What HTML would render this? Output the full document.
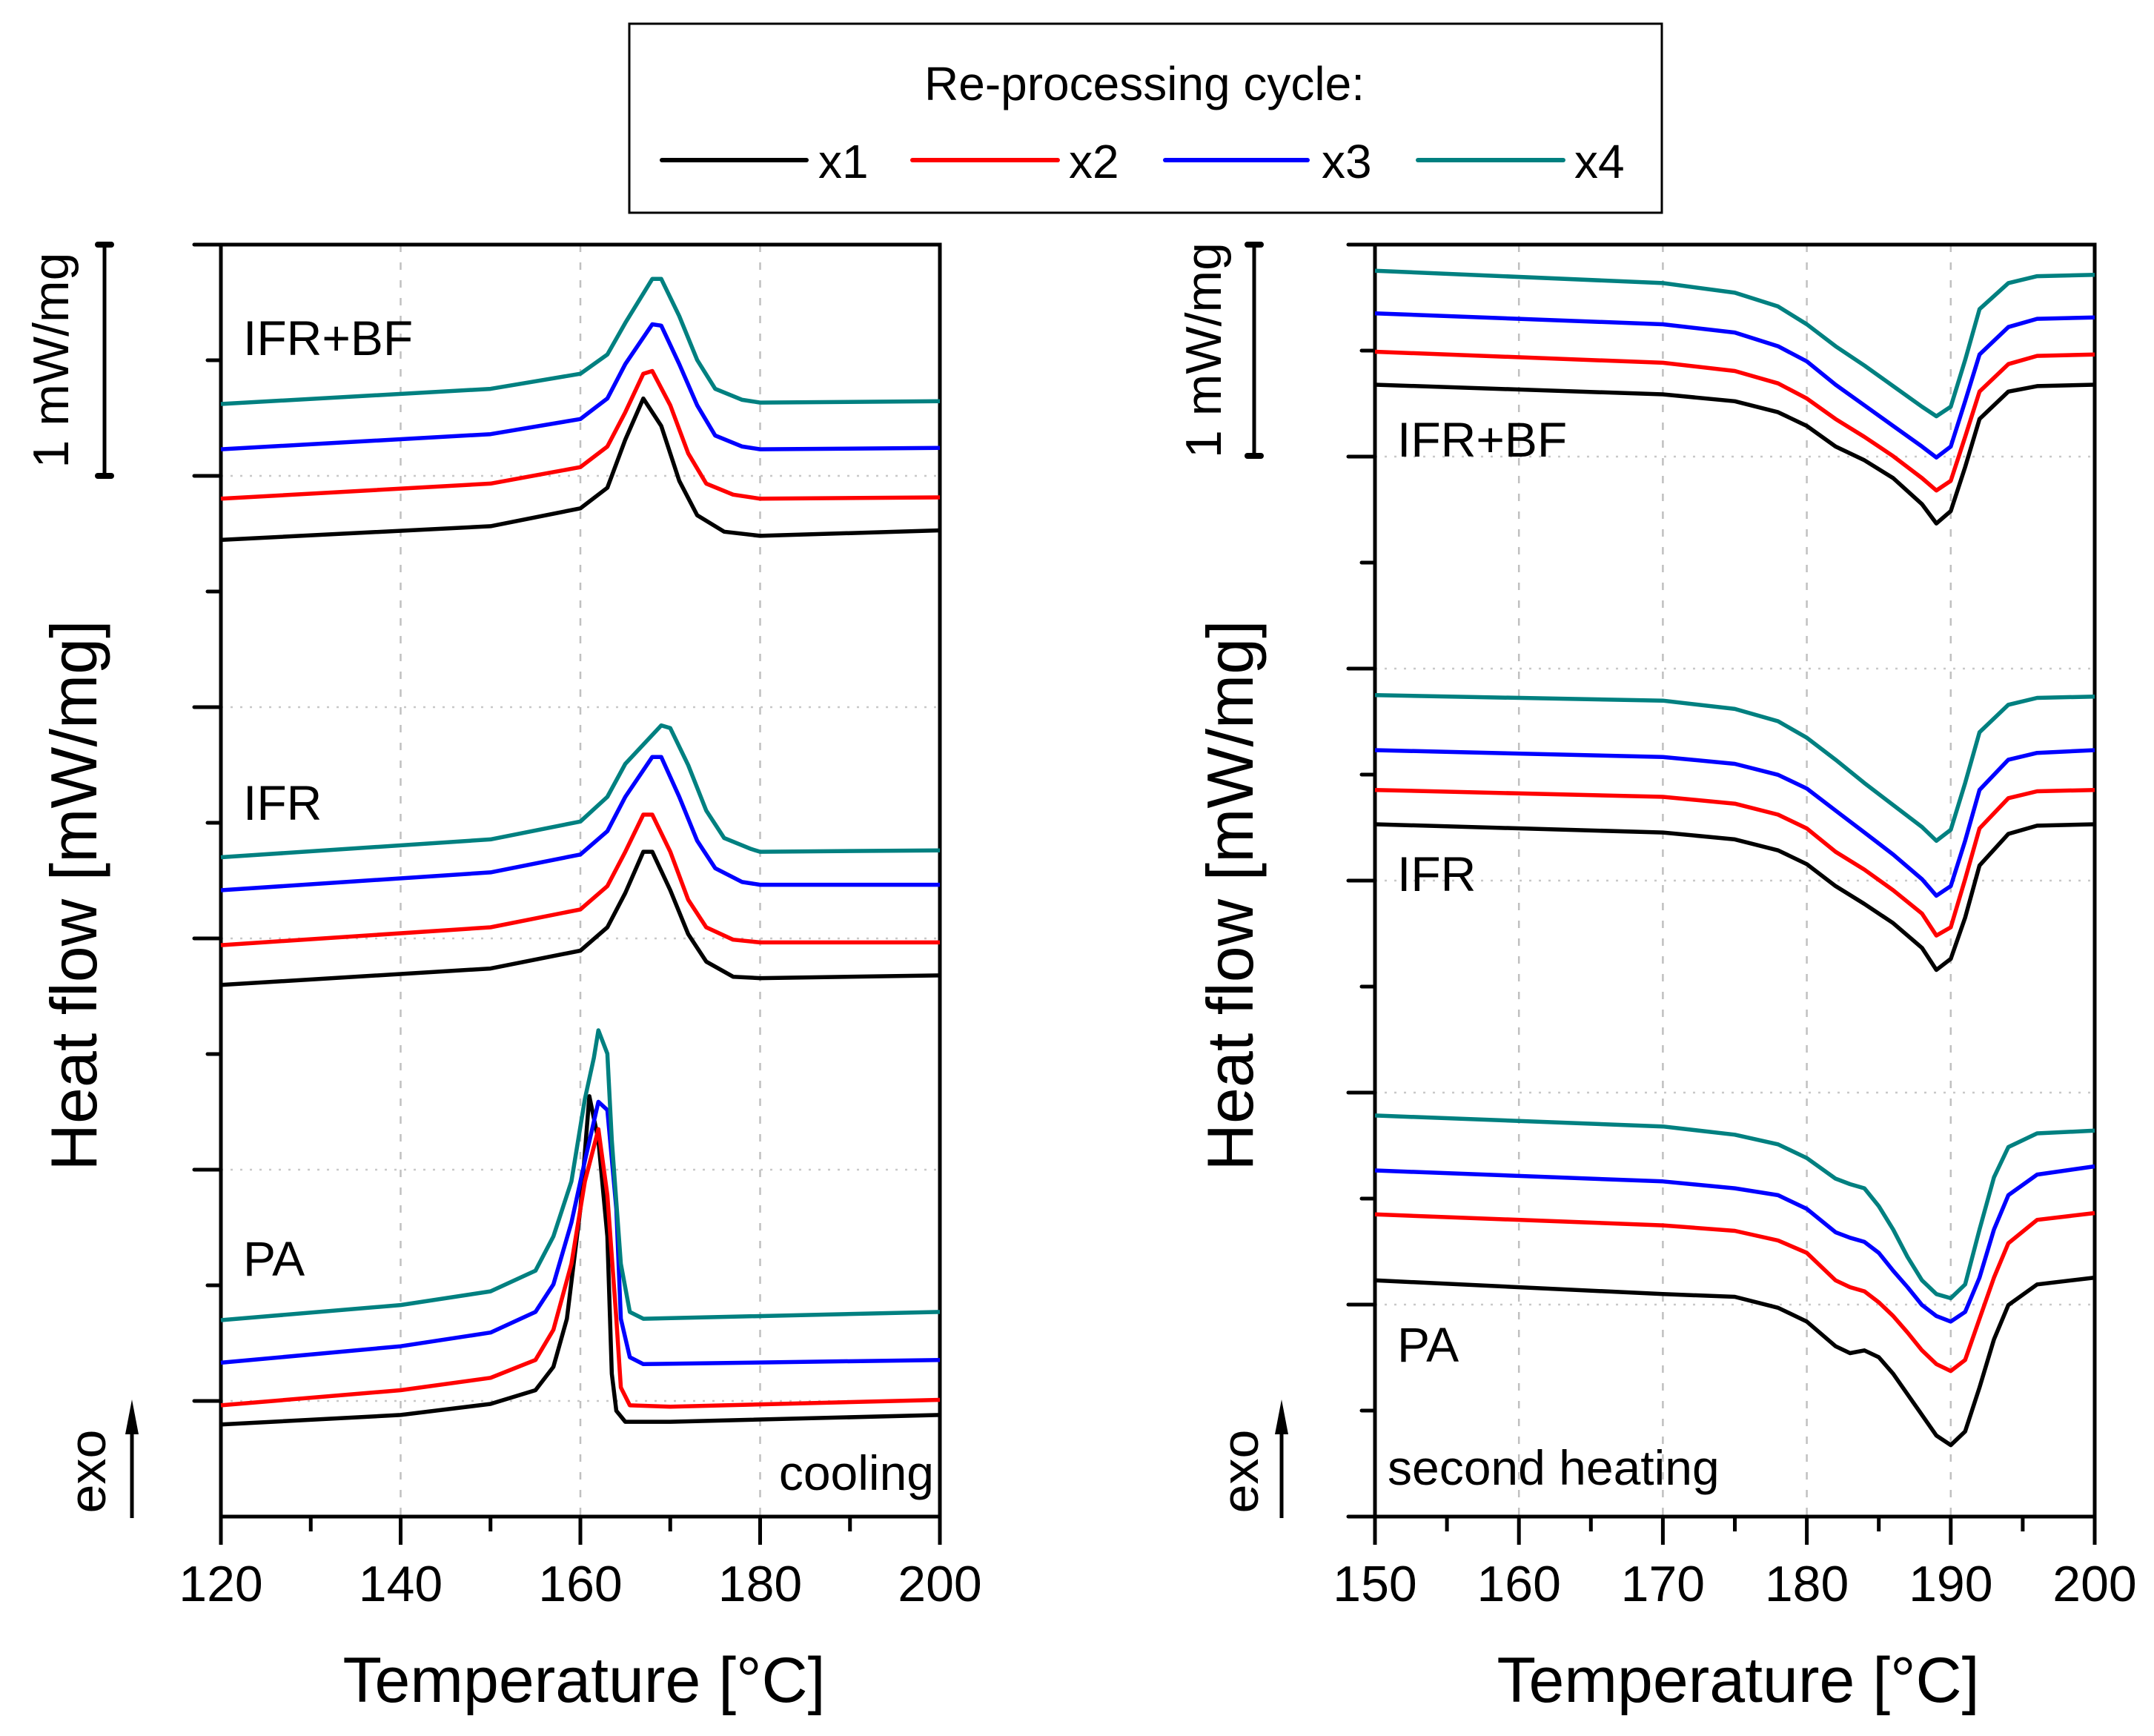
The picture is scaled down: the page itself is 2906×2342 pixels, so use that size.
<!DOCTYPE html>
<html><head><meta charset="utf-8"><style>
html,body{margin:0;padding:0;background:#fff}
svg{display:block;font-family:"Liberation Sans Narrow","Liberation Sans",sans-serif}
.w{font-family:"Liberation Sans",sans-serif}
</style></head><body>
<svg id="fig" width="2906" height="2342" viewBox="0 0 2906 2342" xmlns="http://www.w3.org/2000/svg">
<g>
<rect x="849" y="32" width="1393" height="255" fill="#fff" stroke="#000" stroke-width="3"/>
<text x="1544" y="135" font-size="64" text-anchor="middle">Re-processing cycle:</text>
<g><line x1="893" y1="216" x2="1088" y2="216" stroke="#000" stroke-width="6" stroke-linecap="round"/><text x="1104" y="240" font-size="64">x1</text></g>
<g><line x1="1231" y1="216" x2="1427" y2="216" stroke="#f00" stroke-width="6" stroke-linecap="round"/><text x="1442" y="240" font-size="64">x2</text></g>
<g><line x1="1572" y1="216" x2="1764" y2="216" stroke="#00f" stroke-width="6" stroke-linecap="round"/><text x="1783" y="240" font-size="64">x3</text></g>
<g><line x1="1913" y1="216" x2="2109" y2="216" stroke="#008080" stroke-width="6" stroke-linecap="round"/><text x="2124" y="240" font-size="64">x4</text></g>
</g>
<g id="left"></g>
<g id="right"></g>
</svg>
<script>
// Left panel (cooling) temperatures and heat flow (offset, a.u.; 168.5 units = 1 mW/mg)
const L_BF_x1_T=[120,150,160,163,165,167,169,171,173,176,180,200];
const L_BF_x1_H=[711,721,734,749,784,814,794,754,729,717,714,718];
const L_BF_x2_T=[120,150,160,163,165,167,168,170,172,174,177,180,200];
const L_BF_x2_H=[741,752,764,779,804,832,834,809,774,752,744,741,742];
const L_BF_x3_T=[120,150,160,163,165,168,169,171,173,175,178,180,200];
const L_BF_x3_H=[777,788,799,814,839,868,867,839,809,787,779,777,778];
const L_BF_x4_T=[120,150,160,163,165,168,169,171,173,175,178,180,200];
const L_BF_x4_H=[810,821,832,846,869,901,901,874,842,821,813,811,812];
const L_IFR_x1_T=[120,150,160,163,165,167,168,170,172,174,177,180,200];
const L_IFR_x1_H=[387,399,412,429,454,484,484,456,424,404,393,392,394];
const L_IFR_x2_T=[120,150,160,163,165,167,168,170,172,174,177,180,200];
const L_IFR_x2_H=[416,429,442,459,484,511,511,484,449,429,420,418,418];
const L_IFR_x3_T=[120,150,160,163,165,168,169,171,173,175,178,180,200];
const L_IFR_x3_H=[456,469,482,499,524,553,553,524,492,472,462,460,460];
const L_IFR_x4_T=[120,150,160,163,165,169,170,172,174,176,179,180,200];
const L_IFR_x4_H=[480,493,506,524,548,576,574,547,514,494,486,484,485];
const L_PA_x1_T=[120,140,150,155,157,158.5,160,161,162,163,163.5,164,165,170,200];
const L_PA_x1_H=[67,74,82,92,109,144,224,306,274,204,104,77,69,69,74];
const L_PA_x2_T=[120,140,150,155,157,159,160.5,162,163,164,164.5,165.5,170,200];
const L_PA_x2_H=[81,92,101,114,136,184,244,282,234,144,94,81,80,85];
const L_PA_x3_T=[120,140,150,155,157,159,160.5,162,163,164,164.5,165.5,167,200];
const L_PA_x3_H=[112,124,134,149,169,214,259,302,296,224,144,116,111,114];
const L_PA_x4_T=[120,140,150,155,157,159,160.5,161.5,162,163,163.5,164.5,165.5,167,200];
const L_PA_x4_H=[143,154,164,179,204,244,304,334,354,337,274,184,149,144,149];
const L_xTicks=[120,140,160,180,200];
// Right panel (second heating), 154.3 units = 1 mW/mg
const R_BF_T=[150,170,175,178,180,182,184,186,188,189,190,191,192,194,196,200];
const R_BF_x1_H=[824,817,812,804,794,779,769,756,737,723,732,764,799,819,823,824];
const R_BF_x2_H=[848,840,834,825,814,799,786,772,756,747,754,786,819,839,845,846];
const R_BF_x3_H=[876,868,862,852,841,824,809,794,779,771,779,812,846,866,872,873];
const R_BF_x4_H=[907,898,891,881,868,852,838,823,808,801,808,842,879,898,903,904];
const R_IFR_x1_H=[504,498,493,485,475,459,446,432,414,398,406,436,474,497,503,504];
const R_IFR_x2_H=[529,524,519,511,501,484,471,456,439,423,429,464,501,523,528,529];
const R_IFR_x3_H=[558,553,548,540,530,514,498,482,464,452,459,492,529,551,556,558];
const R_IFR_x4_H=[598,594,588,579,567,551,534,518,502,492,500,534,571,591,596,597];
const R_PA_T=[150,170,175,178,180,182,183,184,185,186,187,188,189,190,191,192,193,194,196,200];
const R_PA_x1_H=[172,162,160,152,142,124,119,121,116,104,89,74,59,52,62,94,129,154,169,174];
const R_PA_x2_H=[220,212,208,201,192,172,167,164,156,146,134,121,111,106,114,144,174,199,216,221];
const R_PA_x3_H=[252,244,239,234,224,207,203,200,192,179,167,154,146,142,149,174,209,234,249,255];
const R_PA_x4_H=[292,284,278,271,261,246,242,239,226,209,189,172,162,159,169,209,247,269,279,281];
const R_xTicks=[150,160,170,180,190,200];

const NS="http://www.w3.org/2000/svg";
const COLORS=["#000000","#ff0000","#0000ff","#008080"];
function mk(parent,tag,attrs){const e=document.createElementNS(NS,tag);for(const k in attrs)e.setAttribute(k,attrs[k]);parent.appendChild(e);return e;}
const TOP=330,BOT=2046,HMAX=926;
function yS(v){return BOT-v*(BOT-TOP)/HMAX;}

function panel(g,x0,x1,tmin,tmax,xTicks,minorStep,yMajorStep,yMinorStep,yMajorStart){
  const xS=t=>x0+(t-tmin)/(tmax-tmin)*(x1-x0);
  for(const t of xTicks){ if(t===tmin||t===tmax) continue;
    const l=mk(g,'line',{x1:xS(t),x2:xS(t),y1:TOP,y2:BOT,stroke:'#c0c0c0','stroke-width':2.5,'stroke-dasharray':'10 14'});
    
    
  }
  for(let v=yMajorStart;v<HMAX-1;v+=yMajorStep){
    const l=mk(g,'line',{x1:x0,x2:x1,y1:yS(v),y2:yS(v),stroke:'#c8c8c8','stroke-width':2.5,'stroke-dasharray':'3 10'});
    
    
  }
  for(let t=tmin;t<=tmax+0.01;t+=minorStep){
    const major=xTicks.includes(t);
    const l=mk(g,'line',{x1:xS(t),x2:xS(t),y1:BOT,y2:BOT+(major?38:20),stroke:'#000','stroke-width':5});
    
    
  }
  for(const t of xTicks){
    const tx=mk(g,'text',{x:xS(t),y:2160,'font-size':68,'text-anchor':'middle'});
    tx.textContent=t;
    
    
  }
  for(let v=HMAX;v>=0;v-=yMinorStep){
    const major=Math.abs(((v-yMajorStart)/yMajorStep)-Math.round((v-yMajorStart)/yMajorStep))<0.01;
    const l=mk(g,'line',{x1:x0-(major?36:18),x2:x0,y1:yS(v),y2:yS(v),stroke:'#000','stroke-width':5,'stroke-linecap':'round'});
    
    
  }
  const fr=mk(g,'rect',{x:x0,y:TOP,width:x1-x0,height:BOT-TOP,fill:'none',stroke:'#000','stroke-width':5});
  
  
  return xS;
}
function series(g,xS,T,H,ci,name){
  const pts=T.map((t,i)=>xS(t).toFixed(1)+','+yS(H[i]).toFixed(1)).join(' ');
  const p=mk(g,'polyline',{points:pts,fill:'none',stroke:COLORS[ci],'stroke-width':5.5,'stroke-linejoin':'round'});
  
  
}
function txt(g,x,y,s,fs,extra,name){
  const t=mk(g,'text',Object.assign({x:x,y:y,'font-size':fs},extra||{}));t.textContent=s;
  
  
  return t;
}
function side(g,lblX,barX,barTop,barBot,hfX,exoX){
  const b=mk(g,'path',{d:`M${barX} ${barTop}V${barBot}`,stroke:'#000','stroke-width':5,fill:'none'});
  
  
  mk(g,'line',{x1:barX-9,x2:barX+9,y1:barTop,y2:barTop,stroke:'#000','stroke-width':8,'stroke-linecap':'round'});
  mk(g,'line',{x1:barX-9,x2:barX+9,y1:barBot,y2:barBot,stroke:'#000','stroke-width':8,'stroke-linecap':'round'});
  txt(g,0,0,'1 mW/mg',68,{transform:`translate(${lblX},${(barTop+barBot)/2}) rotate(-90)`,'text-anchor':'middle',class:'w'},'scale-bar-label');
  txt(g,0,0,'Heat flow [mW/mg]',88,{transform:`translate(${hfX},${1208}) rotate(-90)`,'text-anchor':'middle',class:'w'},'y-axis-title');
  txt(g,0,0,'exo',70,{transform:`translate(${exoX},${1985}) rotate(-90)`,'text-anchor':'middle',class:'w'},'exo-label');
  const ax=barX+37;
  const a=mk(g,'line',{x1:ax,x2:ax,y1:2048,y2:1930,stroke:'#000','stroke-width':5});
  
  
  mk(g,'polygon',{points:`${ax-9},1935 ${ax+9},1935 ${ax},1888`,fill:'#000'});
}

// LEFT
const gl=document.getElementById('left');
const xl=panel(gl,298,1268,120,200,L_xTicks,10,312*926/1716,156*926/1716,(2046-1890)*926/1716);
[[L_BF_x1_T,L_BF_x1_H],[L_BF_x2_T,L_BF_x2_H],[L_BF_x3_T,L_BF_x3_H],[L_BF_x4_T,L_BF_x4_H]].forEach((s,i)=>series(gl,xl,s[0],s[1],i,'ifr-bf-cooling-x'+(i+1)));
[[L_IFR_x1_T,L_IFR_x1_H],[L_IFR_x2_T,L_IFR_x2_H],[L_IFR_x3_T,L_IFR_x3_H],[L_IFR_x4_T,L_IFR_x4_H]].forEach((s,i)=>series(gl,xl,s[0],s[1],i,'ifr-cooling-x'+(i+1)));
[[L_PA_x1_T,L_PA_x1_H],[L_PA_x2_T,L_PA_x2_H],[L_PA_x3_T,L_PA_x3_H],[L_PA_x4_T,L_PA_x4_H]].forEach((s,i)=>series(gl,xl,s[0],s[1],i,'pa-cooling-x'+(i+1)));
txt(gl,328,479,'IFR+BF',66,{},'ifr-bf-label');
txt(gl,328,1106,'IFR',66,{},'ifr-label');
txt(gl,328,1721,'PA',66,{},'pa-label');
txt(gl,1260,2010,'cooling',66,{'text-anchor':'end'},'cooling-label');
txt(gl,788,2296,'Temperature [°C]',86,{'text-anchor':'middle'},'x-axis-title');
side(gl,92,141,330,642,130,142);

// RIGHT
const gr=document.getElementById('right');
const xr=panel(gr,1855,2826,150,200,R_xTicks,5,286*926/1716,143*926/1716,0);
[R_BF_x1_H,R_BF_x2_H,R_BF_x3_H,R_BF_x4_H].forEach((h,i)=>series(gr,xr,R_BF_T,h,i,'ifr-bf-heating-x'+(i+1)));
[R_IFR_x1_H,R_IFR_x2_H,R_IFR_x3_H,R_IFR_x4_H].forEach((h,i)=>series(gr,xr,R_BF_T,h,i,'ifr-heating-x'+(i+1)));
[R_PA_x1_H,R_PA_x2_H,R_PA_x3_H,R_PA_x4_H].forEach((h,i)=>series(gr,xr,R_PA_T,h,i,'pa-heating-x'+(i+1)));
txt(gr,1885,616,'IFR+BF',66,{},'ifr-bf-label');
txt(gr,1885,1202,'IFR',66,{},'ifr-label');
txt(gr,1885,1837,'PA',66,{},'pa-label');
txt(gr,1872,2003,'second heating',66,{},'second-heating-label');
txt(gr,2345,2296,'Temperature [°C]',86,{'text-anchor':'middle'},'x-axis-title');
side(gr,1647,1692,330,615,1690,1697);
</script>
</body></html>
